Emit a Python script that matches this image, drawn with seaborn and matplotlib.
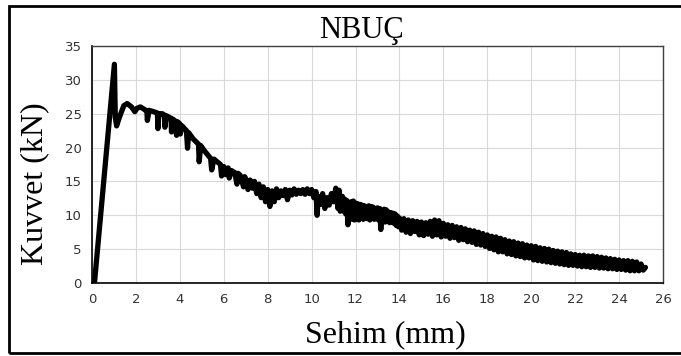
import pandas as pd
import seaborn as sns
import matplotlib.pyplot as plt
from matplotlib.patches import Rectangle

# Load-deflection values
sehim = [
    0.08, 0.12, 0.98, 1.02, 1.06, 1.12, 1.25, 1.45, 1.6, 1.8, 1.95, 2.05, 2.2, 2.4,
    2.5, 2.52, 2.6, 2.8, 2.98, 3.0, 3.05, 3.2, 3.3, 3.32, 3.38, 3.5, 3.6, 3.62,
    3.68, 3.8, 3.85, 3.9, 4.0, 4.02, 4.1, 4.3, 4.35, 4.4, 4.6, 4.85, 4.88, 4.95,
    5.1, 5.3, 5.4, 5.45, 5.55, 5.7, 5.85, 5.9, 6.0,
    6.1, 6.2, 6.25, 6.35, 6.5, 6.6, 6.65, 6.75, 6.9, 6.95, 7.0, 7.1, 7.2, 7.3,
    7.4, 7.5, 7.6, 7.7, 7.8, 7.9, 8.0, 8.1, 8.2, 8.3, 8.4,
    8.5, 8.6, 8.7, 8.8, 8.9, 9.0, 9.1, 9.2, 9.3, 9.4, 9.5, 9.6, 9.7, 9.8, 9.9,
    10.0, 10.1, 10.2, 10.25, 10.3, 10.4, 10.5, 10.6, 10.7, 10.8, 10.9, 11.0,
    11.1, 11.2, 11.25, 11.3,
    11.35, 11.4, 11.45, 11.5, 11.55, 11.6, 11.65, 11.7, 11.75, 11.8,
    11.85, 11.9, 11.95, 12.0, 12.05, 12.1, 12.15, 12.2, 12.25, 12.3,
    12.35, 12.4, 12.45, 12.5, 12.55, 12.6, 12.65, 12.7, 12.75, 12.8,
    12.85, 12.9, 12.95, 13.0, 13.05, 13.1, 13.15, 13.2, 13.25, 13.3,
    13.35, 13.4, 13.45, 13.5, 13.55, 13.6, 13.65, 13.7, 13.75, 13.8,
    13.85, 13.9, 13.95, 14.0,
    14.1, 14.2, 14.3, 14.4, 14.5, 14.6, 14.7, 14.8, 14.9, 15.0,
    15.1, 15.2, 15.3, 15.4, 15.5, 15.6, 15.7, 15.8, 15.9, 16.0,
    16.1, 16.2, 16.3, 16.4, 16.5, 16.6, 16.7, 16.8, 16.9, 17.0,
    17.1, 17.2, 17.3, 17.4, 17.5, 17.6, 17.7, 17.8, 17.9, 18.0,
    18.1, 18.2, 18.3, 18.4, 18.5, 18.6, 18.7, 18.8, 18.9, 19.0,
    19.1, 19.2, 19.3, 19.4, 19.5, 19.6, 19.7, 19.8, 19.9, 20.0,
    20.1, 20.2, 20.3, 20.4, 20.5, 20.6, 20.7, 20.8, 20.9, 21.0,
    21.1, 21.2, 21.3, 21.4, 21.5, 21.6, 21.7, 21.8, 21.9, 22.0,
    22.1, 22.2, 22.3, 22.4, 22.5, 22.6, 22.7, 22.8, 22.9, 23.0,
    23.1, 23.2, 23.3, 23.4, 23.5, 23.6, 23.7, 23.8, 23.9, 24.0,
    24.1, 24.2, 24.3, 24.4, 24.5, 24.6, 24.7, 24.8, 24.9, 25.0,
    25.1, 25.2,
]
kuvvet = [
    0.0, 0.3, 31.0, 32.3, 24.5, 23.2, 24.5, 26.2, 26.5, 26.0, 25.3, 25.8, 26.0, 25.6,
    25.3, 24.0, 25.5, 25.3, 25.1, 22.8, 25.0, 25.0, 24.8, 23.0, 24.7, 24.5, 24.3, 22.3,
    24.2, 23.9, 21.8, 23.8, 23.5, 22.0, 23.2, 22.5, 19.9, 22.2, 21.3, 20.5, 17.9, 20.3,
    19.6, 18.8, 18.4, 16.7, 18.3, 17.9, 17.5, 15.8, 17.2,
    16.0, 17.0, 15.5, 16.6, 16.3, 14.6, 16.2, 15.9, 14.2, 15.7, 15.4, 13.8, 15.2, 14.0,
    15.0, 13.2, 14.6, 12.6, 14.2, 12.0, 13.8, 11.3, 13.6, 12.0, 13.9,
    12.6, 13.6, 12.9, 13.8, 12.3, 13.7, 13.0, 13.9, 13.1, 13.7, 13.2, 13.8, 13.1, 13.9, 13.2,
    13.8, 12.6, 13.5, 10.0, 12.8, 11.6, 13.2, 11.0, 12.6, 11.5, 13.2, 12.0,
    14.0, 11.0, 13.7, 10.6,
    11.2, 12.8, 10.6, 12.4, 10.2, 12.2, 8.6, 11.9, 9.8, 12.0,
    9.4, 12.1, 9.3, 11.8, 9.5, 11.7, 9.3, 11.6, 9.6, 11.5,
    9.4, 11.4, 9.6, 11.3, 9.5, 11.4, 9.3, 11.3, 9.6, 11.2,
    9.4, 11.0, 9.5, 11.1, 9.3, 11.0, 7.9, 10.7, 9.1, 10.9,
    9.0, 10.8, 9.2, 10.5, 8.9, 10.4, 9.0, 10.3, 8.8, 10.2,
    8.5, 9.9, 8.3, 9.6,
    7.8, 9.5, 7.5, 9.3, 7.3, 9.2, 7.6, 9.1, 7.1, 9.0,
    7.0, 8.9, 7.2, 9.1, 6.9, 9.3, 7.1, 9.2, 6.8, 8.8,
    6.9, 8.6, 6.6, 8.5, 6.7, 8.3, 6.3, 8.2, 6.4, 8.0,
    6.1, 7.8, 6.0, 7.7, 5.7, 7.5, 5.6, 7.3, 5.4, 7.1,
    5.1, 6.9, 4.9, 6.8, 4.6, 6.6, 4.6, 6.4, 4.3, 6.2,
    4.2, 6.1, 4.0, 5.9, 3.9, 5.8, 3.7, 5.6, 3.7, 5.5,
    3.4, 5.4, 3.3, 5.2, 3.2, 5.1, 3.1, 5.0, 3.0, 4.8,
    2.9, 4.7, 2.8, 4.6, 2.7, 4.5, 2.6, 4.3, 2.6, 4.2,
    2.5, 4.1, 2.4, 4.1, 2.4, 4.0, 2.3, 4.0, 2.3, 3.9,
    2.2, 3.8, 2.2, 3.7, 2.1, 3.6, 2.1, 3.5, 2.0, 3.4,
    2.0, 3.3, 1.9, 3.3, 1.8, 3.2, 1.8, 3.1, 1.8, 2.8,
    1.9, 2.3,
]
x_ticks = list(range(0, 27, 2))
y_ticks = list(range(0, 36, 5))

df = pd.DataFrame({"Sehim": sehim, "Kuvvet": kuvvet})

sns.set_style("whitegrid", {"grid.color": "#d9d9d9"})
plt.rcParams["text.color"] = "black"
serif = ["Liberation Serif", "DejaVu Serif"]

fig = plt.figure(figsize=(6.81, 3.56), dpi=100)
ax = fig.add_axes([0.1351, 0.2051, 0.8385, 0.6657])

sns.lineplot(data=df, x="Sehim", y="Kuvvet", sort=False, estimator=None,
             color="black", linewidth=3.8, ax=ax)

ax.set_xlim(0, 26)
ax.set_ylim(0, 35)
ax.set_xticks(x_ticks)
ax.set_yticks(y_ticks)
ax.tick_params(direction="inout", length=7, width=1, colors="black",
               labelsize=9.5, labelcolor="#333333", pad=4)
ax.set_xlabel("")
ax.set_ylabel("")
for side in ["top", "right"]:
    ax.spines[side].set_color("#404040")
    ax.spines[side].set_linewidth(1)
for side in ["left", "bottom"]:
    ax.spines[side].set_color("black")
    ax.spines[side].set_linewidth(1.2)

fig.text(362 / 681, 1 - 38 / 356, "NBUÇ", family=serif, fontsize=22,
         ha="center", va="baseline")
fig.text(385 / 681, 1 - 342 / 356, "Sehim (mm)", family=serif, fontsize=23,
         ha="center", va="baseline")
fig.text(35 / 681, 1 - 184 / 356, "Kuvvet (kN)", family=serif, fontsize=23,
         ha="center", va="center", rotation=90)

# outer frame around the chart
fig.patches.append(Rectangle((9 / 681, 3 / 356), 1.0, 347 / 356,
                             transform=fig.transFigure, fill=False,
                             edgecolor="black", linewidth=2))

fig.savefig("out.png", dpi=100)
